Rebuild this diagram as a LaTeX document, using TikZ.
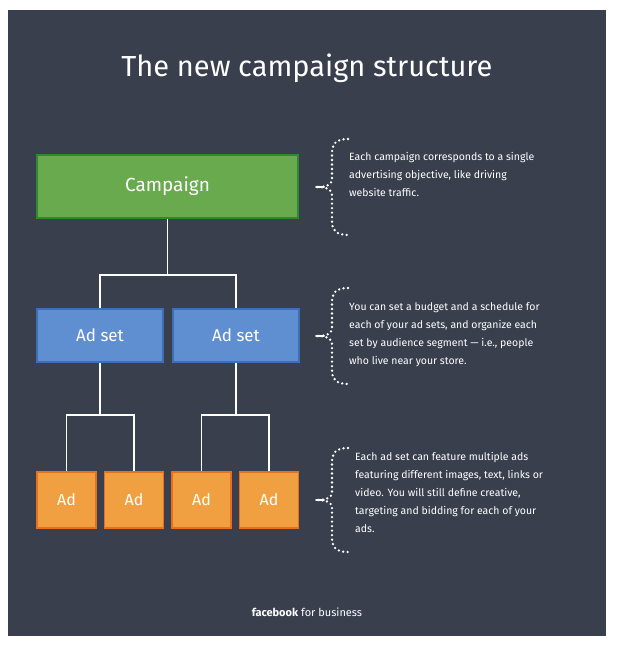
\documentclass[tikz,border=0pt]{standalone}
\usepackage{fontspec}
\setmainfont{Fira Sans}
\definecolor{bg}{HTML}{393F4D}
\definecolor{gfill}{HTML}{6AAA4E}
\definecolor{gline}{HTML}{2E8A2E}
\definecolor{bfill}{HTML}{5F8FD0}
\definecolor{bline}{HTML}{3E6FB5}
\definecolor{ofill}{HTML}{F0A040}
\definecolor{oline}{HTML}{E8701C}
\begin{document}
\begin{tikzpicture}[x=1pt,y=-1pt,
  box/.style={draw,line width=1.5pt,text=white,inner sep=0pt},
  camp/.style={box,fill=gfill,draw=gline,minimum width=261pt,minimum height=63pt,font=\fontsize{19}{22}\selectfont},
  adset/.style={box,fill=bfill,draw=bline,minimum width=126pt,minimum height=53pt,font=\fontsize{17}{20}\selectfont},
  ad/.style={box,fill=ofill,draw=oline,minimum width=59pt,minimum height=56pt,font=\fontsize{16}{19}\selectfont},
  link/.style={draw=white,line width=1.5pt},
  brace/.style={draw=white,line width=2.6pt,line cap=round,dash pattern=on 0pt off 4.5pt},
  desc/.style={text=white,align=left,anchor=north west,inner sep=0pt,font=\fontsize{10.5}{18}\selectfont}]
\useasboundingbox (0,0) rectangle (619,646);
\fill[white] (0,0) rectangle (619,646);
\fill[bg] (8,10) rectangle (606,636);
\node[text=white,font=\fontsize{29}{34}\selectfont] (title) at (307,68) {The new campaign structure};
\node[camp] (c) at (167.5,186.5) {Campaign};
\node[adset] (s1) at (100,335.5) {Ad set};
\node[adset] (s2) at (236,335.5) {Ad set};
\node[ad] (a1) at (66.5,500) {Ad};
\node[ad] (a2) at (134,500) {Ad};
\node[ad] (a3) at (201.5,500) {Ad};
\node[ad] (a4) at (269,500) {Ad};
\coordinate (j0) at (167.5,275);
\coordinate (j1) at (100,415);
\coordinate (j2) at (236,415);
\draw[link] (c.south) -- (j0) (s1.north) |- (j0) -| (s2.north);
\draw[link] (s1.south) -- (j1) (a1.north) |- (j1) -| (a2.north);
\draw[link] (s2.south) -- (j2) (a3.north) |- (j2) -| (a4.north);
\foreach \y/\h/\n in {187/48/b1,336/48/b2,500/52/b3}{
  \coordinate (\n) at (316,\y);
  \draw[brace] (348,\y-\h) .. controls (335,\y-\h) and (332,\y-\h+6) .. (332,\y-\h+14)
     -- (332,\y-8) .. controls (332,\y-2) and (326,\y) .. (\n)
     .. controls (326,\y) and (332,\y+2) .. (332,\y+8)
     -- (332,\y+\h-14) .. controls (332,\y+\h-6) and (335,\y+\h) .. (348,\y+\h);
  \draw[white,line width=1.6pt,line cap=round] (\n) -- ++(8,0);
}
\node[desc] (t1) at (349,152) {Each campaign corresponds to a single\\advertising objective, like driving\\website traffic.};
\node[desc] (t2) at (349,302) {You can set a budget and a schedule for\\each of your ad sets, and organize each\\set by audience segment — i.e., people\\who live near your store.};
\node[desc] (t3) at (355,452) {Each ad set can feature multiple ads\\featuring different images, text, links or\\video. You will still define creative,\\targeting and bidding for each of your\\ads.};
\node[text=white,font=\fontsize{11}{13}\selectfont] (foot) at (307,612) {\textbf{facebook} for business};
\end{tikzpicture}
\end{document}
